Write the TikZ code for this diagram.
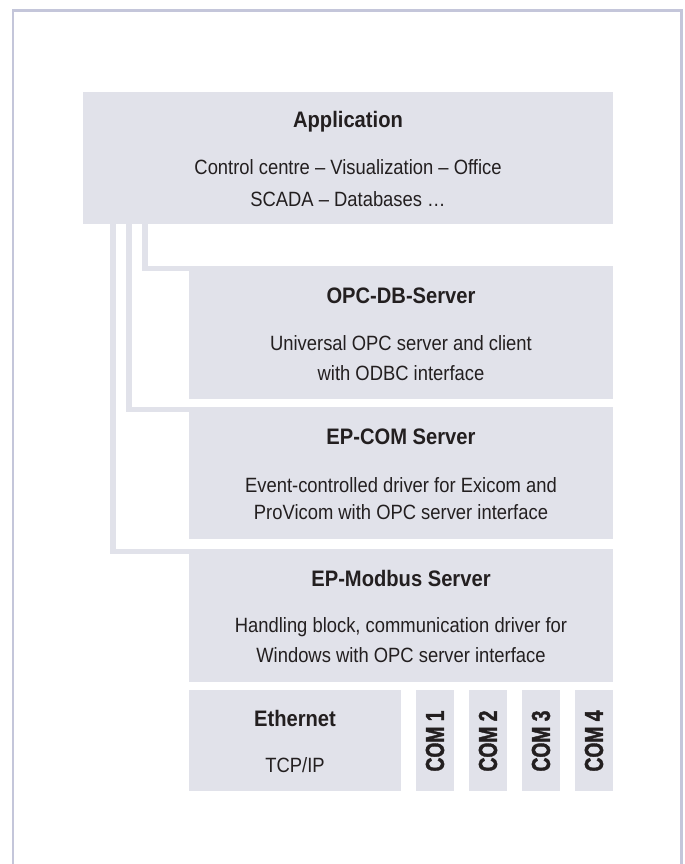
\documentclass[tikz,border=0pt]{standalone}
\usepackage{fontspec}
\setmainfont{Liberation Sans}[FakeStretch=0.89, BoldFeatures={FakeStretch=0.9}]
\newfontfamily\comfont{Liberation Sans}[FakeStretch=0.74, BoldFeatures={FakeBold=1.5}]
\definecolor{boxc}{HTML}{E1E2EA}
\definecolor{framec}{HTML}{C4C6DA}
\definecolor{txtc}{HTML}{231F20}
\begin{document}
\begin{tikzpicture}[x=0.75pt,y=-0.75pt,
  box/.style={fill=boxc, draw=none, anchor=north west, inner sep=0pt, outer sep=0pt},
  conn/.style={draw=boxc, line width=4.1pt},
  frameline/.style={draw=framec, line width=1.9pt},
  title/.style={anchor=base, font=\fontsize{16.8}{20}\selectfont\bfseries, text=txtc, inner sep=0pt},
  body/.style={anchor=base, font=\fontsize{15.5}{18}\selectfont, text=txtc, inner sep=0pt},
  comlabel/.style={rotate=90, font=\comfont\fontsize{19.5}{22}\selectfont\bfseries, text=txtc, inner sep=0pt}]
\useasboundingbox (0,0) rectangle (685,864);
% frame
\draw[frameline] (13,864) -- (13,10.5) -- (681.5,10.5) -- (681.5,864);
% boxes
\node[box, minimum width=397.5pt, minimum height=99pt] (app) at (83,92) {};
\node[box, minimum width=318pt, minimum height=99.75pt] (opc) at (189,266) {};
\node[box, minimum width=318pt, minimum height=99pt] (epcom) at (189,407) {};
\node[box, minimum width=318pt, minimum height=99.75pt] (modbus) at (189,549) {};
\node[box, minimum width=159pt, minimum height=75.75pt] (eth) at (189,690) {};
\node[box, minimum width=28.5pt, minimum height=75.75pt] (com1) at (416,690) {};
\node[box, minimum width=28.5pt, minimum height=75.75pt] (com2) at (469,690) {};
\node[box, minimum width=28.5pt, minimum height=75.75pt] (com3) at (522,690) {};
\node[box, minimum width=28.5pt, minimum height=75.75pt] (com4) at (575,690) {};
% connectors
\coordinate (c1) at (113,0);
\coordinate (c2) at (129,0);
\coordinate (c3) at (145,0);
\draw[conn] (c3 |- app.south) |- ([yshift=-2.06pt]opc.north west);
\draw[conn] (c2 |- app.south) |- ([yshift=-2.06pt]epcom.north west);
\draw[conn] (c1 |- app.south) |- ([yshift=-2.06pt]modbus.north west);
% texts
\node[title] (appt) at (348,127) {Application};
\node[body] (appl1) at (348,174) {Control centre – Visualization – Office};
\node[body] (appl2) at (348,206) {SCADA – Databases …};
\node[title] (opct) at (401,303.5) {OPC-DB-Server};
\node[body] (opcl1) at (401,350) {Universal OPC server and client};
\node[body] (opcl2) at (401,380) {with ODBC interface};
\node[title] (epcomt) at (401,444) {EP-COM Server};
\node[body] (epcoml1) at (401,492) {Event-controlled driver for Exicom and};
\node[body] (epcoml2) at (401,519.5) {ProVicom with OPC server interface};
\node[title] (modbust) at (401,586) {EP-Modbus Server};
\node[body] (modbusl1) at (401,632) {Handling block, communication driver for};
\node[body] (modbusl2) at (401,662) {Windows with OPC server interface};
\node[title] (etht) at (295,726.5) {Ethernet};
\node[body] (ethl) at (295,772) {TCP/IP};
\node[comlabel] (com1t) at (435,741) {COM 1};
\node[comlabel] (com2t) at (488,741) {COM 2};
\node[comlabel] (com3t) at (541,741) {COM 3};
\node[comlabel] (com4t) at (594,741) {COM 4};
\end{tikzpicture}
\end{document}
